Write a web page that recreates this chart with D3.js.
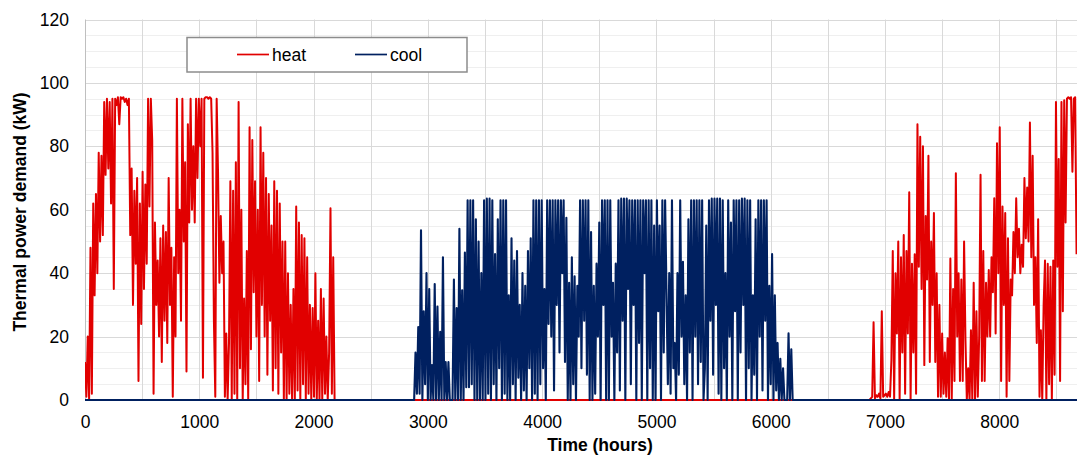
<!DOCTYPE html>
<html>
<head>
<meta charset="utf-8">
<script src="https://cdn.jsdelivr.net/npm/d3@7"></script>
<style>
html,body{margin:0;padding:0;background:#fff;}
svg{display:block;font-family:"Liberation Sans",Arial,sans-serif;}
</style>
</head>
<body>
<svg id="chart" width="1078" height="457"></svg>
<script>
const stepHours = 12;
const xTicks = [0, 1000, 2000, 3000, 4000, 5000, 6000, 7000, 8000];
const yTicks = [0, 20, 40, 60, 80, 100, 120];
const seriesNames = ["heat", "cool"];

const heatStartA = 0;
const heatValuesA = [
 12,1,20,0,48,2, 62,33,65,40, 78,50,77,52, 94,71,95,73,94,62,95, 35,
 95,93,95.5,87,95.5,95,95.5,94,95,93,95, 52,
 73,30,66,43,70,6,62,24,72,35,68,43, 95,61,95,
 82,2,56,30,44,20, 51,12,55,25,53,18,70,30,48,1,45,20,
 95,40,60,25,95,50,75,9, 87,56,95,60,80,56,95,70,
 95,80,95,7,95,95.5,95.5,95,95.5,95, 78,25,1, 95,
 72,37,58,40,50,1, 21,0,18, 69,0,66,2,75,0,94,10,60,0,
 32,5,47, 0,86,16,82,34,69,20,60, 6,86,30,78,20,70,8,65,25,55,
 3,69,10,66,2,62,15,50,0, 50,0,40,2,30,0,35,
 0,61,3,56,0,52,5,51,0,45,2,30, 0,29,1,40,0,25,
 0,35,0,32,2,20,0,15, 60.5,2,45, 0
];

const heatStartB = 6876;
const heatValuesB = [
 0.5,1,24.5,0.5,1.5,1,2,0.5,28,1,1.5,2,1,2.5,1, 12.6,
 47,0,40,21,50,0,45,15,52,2,47,21,65.5,0,43,15,46,2,
 87,42,83,35,80,11,58,38,77,12,50,30,59,12,40,
 1,30,1,21,2,15,1,19.5, 0,44.6,0,35, 6,71.5,20,40,
 6,38,6,50,19,0,10,0, 22,0,37,0,28,1,20,71,
 6,47,6,37,20,41,20,45,34,63.6,21,81,40,86,6,61,30,59,1,51,
 6,38,33,53,40,63.6,45,54,40,49,42,70,51,67,50,87.5,45,77,30,45,
 18,57,1,22,0,30,44,0,43,5,42,0,44,8,94,42,76,6,94,28,94.5,56,
 95,95.5,95,95.5,72,95,95.5,46
];

const coolStart = 2880;
const coolValues = [
 0,15,2,23,2,53.5,0,28,5,40,0,35,
 0,11,0,36.6,0,29.5,0,21.5,0,45,0,12,0,12,0,0,0,38,0,29,0,54,0,34.6,0,46.5,4,
 63,4,63,5,63,0, 57,0,50,0,40,0, 63,0,63.5,2,63.5,0,63,5,
 46,0,57,10,63,0,63,2,63,0,33,0,51,5,44,0,47,7,30,0,40,3,36,0,47,10,51,0,
 63,2,63,0,63,5,63,10,35,0,63,24,63,20,63,3,63,30,63,15,63,40,63,12,
 57.5,0,37,0,45,5,39,0,36,20,63,10,63,25,63,8,63,0,53,0,36,2,43,20,56,0,
 63,30,63,0,63,0,63,20,37,0,43,15,63,3,63.5,25,63.5,0,63.5,35,63,5,63,30,
 63,0,63,18,63,0,63,40,63,0,63,10,63,0,55,0,63,28,55,0,63,15,
 63,34,5,40,2,63,10,18,0,40,8,63,20,43.6,5,33,0,57,15,
 63,0,63,20,63,5,63,12,63,0,10,55,0,63,25,63.5,8,63.5,30,63.5,2,63.5,0,
 63,10,40,0,63,20,56,0,63,28,63,0,63,15,63.5,30,63.5,0,63,10,63,0,
 33,8,57,0,63,20,63,3,63,25,63,0,36,5,46,0,33,3,18,0,13,0,10,0,0,0,21,0,16,0
];

// ---- layout ----
const W = 1078, H = 457;
const plot = {left: 85, right: 1077, top: 19.5, bottom: 400};
const colors = {heat: "#e10000", cool: "#002060"};

const svg = d3.select("#chart");
svg.append("rect").attr("width", W).attr("height", H).attr("fill", "#fff");

const x = d3.scaleLinear().domain([0, 8680]).range([plot.left, plot.right]);
const y = d3.scaleLinear().domain([0, 120]).range([plot.bottom, plot.top]);

// gridlines
const grid = svg.append("g");
grid.selectAll("line.minor").data(d3.range(0, 121, 5).filter(v => v % 20 !== 0))
  .join("line").attr("class", "minor")
  .attr("x1", plot.left).attr("x2", plot.right)
  .attr("y1", d => Math.round(y(d)) + 0.5).attr("y2", d => Math.round(y(d)) + 0.5)
  .attr("stroke", "#efefef").attr("stroke-width", 1);
grid.selectAll("line.vgrid").data(d3.range(500, 8681, 500))
  .join("line").attr("class", "vgrid")
  .attr("x1", d => Math.round(x(d)) + 0.5).attr("x2", d => Math.round(x(d)) + 0.5)
  .attr("y1", plot.top).attr("y2", plot.bottom)
  .attr("stroke", "#d9d9d9").attr("stroke-width", 1);
grid.selectAll("line.major").data(yTicks.filter(v => v > 0))
  .join("line").attr("class", "major")
  .attr("x1", plot.left).attr("x2", plot.right)
  .attr("y1", d => Math.round(y(d)) + 0.5).attr("y2", d => Math.round(y(d)) + 0.5)
  .attr("stroke", "#d9d9d9").attr("stroke-width", 1);
grid.append("line")
  .attr("x1", plot.left + 0.5).attr("x2", plot.left + 0.5)
  .attr("y1", plot.top).attr("y2", plot.bottom)
  .attr("stroke", "#bfbfbf").attr("stroke-width", 1);

// axes (labels only, like the reference)
const yAxis = d3.axisLeft(y).tickValues(yTicks).tickSize(0).tickPadding(16).tickFormat(d3.format("d"));
const gy = svg.append("g").attr("transform", `translate(${plot.left},0)`).call(yAxis);
gy.select(".domain").remove();
gy.selectAll("text").attr("font-size", 17.5).attr("fill", "#000")
  .attr("font-family", "Liberation Sans, Arial, sans-serif");

const xAxis = d3.axisBottom(x).tickValues(xTicks).tickSize(0).tickPadding(16).tickFormat(d3.format("d"));
const gx = svg.append("g").attr("transform", `translate(0,${plot.bottom})`).call(xAxis);
gx.select(".domain").remove();
gx.selectAll("text").attr("font-size", 17.5).attr("fill", "#000")
  .attr("font-family", "Liberation Sans, Arial, sans-serif");

// build series
function toPoints(start, vals) { return vals.map((v, i) => [start + i * stepHours, v]); }
const heatPts = [].concat(
  toPoints(heatStartA, heatValuesA),
  [[heatStartB - stepHours, 0]],
  toPoints(heatStartB, heatValuesB)
);
const coolPts = [].concat(
  [[0, 0]],
  toPoints(coolStart, coolValues),
  [[8680, 0]]
);

svg.append("clipPath").attr("id", "clip").append("rect")
  .attr("x", plot.left).attr("y", 0).attr("width", plot.right - plot.left).attr("height", plot.bottom + 3);

const line = d3.line().x(d => x(d[0])).y(d => y(d[1]));
const series = svg.append("g").attr("clip-path", "url(#clip)");
series.append("path").datum(heatPts).attr("d", line)
  .attr("fill", "none").attr("stroke", colors.heat).attr("stroke-width", 2).attr("stroke-linejoin", "round");
series.append("path").datum(coolPts).attr("d", line)
  .attr("fill", "none").attr("stroke", colors.cool).attr("stroke-width", 2.1).attr("stroke-linejoin", "round");

// axis titles
svg.append("text").attr("x", 600).attr("y", 451).attr("text-anchor", "middle")
  .attr("font-size", 17.5).attr("font-weight", "bold").text("Time (hours)");
svg.append("text").attr("transform", "translate(26,212) rotate(-90)").attr("text-anchor", "middle")
  .attr("font-size", 17.5).attr("font-weight", "bold").text("Thermal power demand (kW)");

// legend
const lg = svg.append("g");
lg.append("rect").attr("x", 187).attr("y", 37.5).attr("width", 280).attr("height", 34.5)
  .attr("fill", "#fff").attr("stroke", "#8c8c8c").attr("stroke-width", 1.5);
const legendItems = [{name: seriesNames[0], x0: 237}, {name: seriesNames[1], x0: 355}];
legendItems.forEach(it => {
  lg.append("line").attr("x1", it.x0).attr("x2", it.x0 + 32).attr("y1", 54.5).attr("y2", 54.5)
    .attr("stroke", colors[it.name]).attr("stroke-width", 1.7);
  lg.append("text").attr("x", it.x0 + 35).attr("y", 60.5).attr("font-size", 17.5).text(it.name);
});
</script>
</body>
</html>
